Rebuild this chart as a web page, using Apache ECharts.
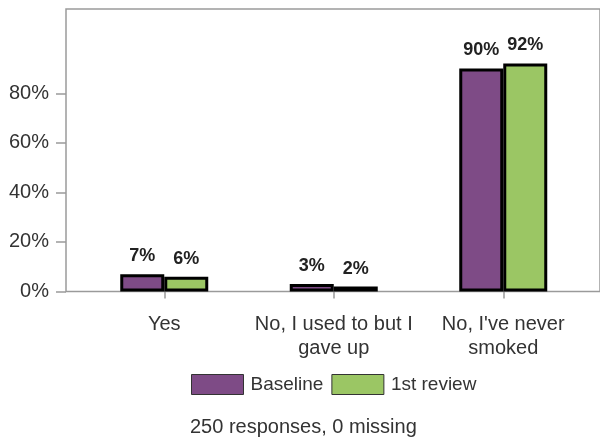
<!DOCTYPE html>
<html>
<head>
<meta charset="utf-8">
<script src="https://cdn.jsdelivr.net/npm/echarts@6/dist/echarts.min.js"></script>
<style>html,body{margin:0;padding:0;background:#fff}#c{width:600px;height:441px}</style>
</head>
<body>
<div id="c"></div>
<script>
var categories = ['Yes', 'No, I used to but I\ngave up', "No, I've never\nsmoked"];
var baseline = [7, 3, 90];
var review = [6, 2, 92];
var seriesNames = ['Baseline', '1st review'];
var yTicks = [0, 20, 40, 60, 80];
var footer = '250 responses, 0 missing';

var FONT = 'Liberation Sans';
var chart = echarts.init(document.getElementById('c'), null, {renderer: 'canvas'});
var yMax = 114;
chart.setOption({
  animation: false,
  color: ['#7e4b86', '#9bc664'],
  textStyle: {fontFamily: FONT},
  grid: [
    {left: 66, top: 9, right: -10, bottom: 149.5, show: true, borderColor: '#9a9a9a', borderWidth: 1.5, backgroundColor: 'transparent'},
    {left: 79.5, top: 9, width: 508.5, bottom: 149.5}
  ],
  xAxis: [
    {gridIndex: 0, type: 'value', min: 0, max: 1, show: false},
    {gridIndex: 1, type: 'category', data: categories,
     axisLine: {show: false},
     axisTick: {show: true, alignWithLabel: true, length: 7, lineStyle: {color: '#9a9a9a', width: 1.5}},
     axisLabel: {margin: 21, fontSize: 20, lineHeight: 24, color: '#333', fontFamily: FONT, interval: 0}}
  ],
  yAxis: [
    {gridIndex: 0, type: 'value', min: 0, max: yMax,
     axisLine: {show: false}, splitLine: {show: false},
     axisTick: {show: true, length: 10, customValues: yTicks, lineStyle: {color: '#9a9a9a', width: 1.5}},
     axisLabel: {customValues: yTicks, formatter: '{value}%', fontSize: 20, color: '#333', margin: 17, fontFamily: FONT}},
    {gridIndex: 1, type: 'value', min: 0, max: yMax, show: false}
  ],
  legend: {
    data: seriesNames, left: 186, top: 369, icon: 'rect', itemWidth: 52, itemHeight: 20, itemGap: 8,
    itemStyle: {borderWidth: 1, borderColor: '#333'},
    textStyle: {fontSize: 19, color: '#333', fontFamily: FONT, padding: [0, 0, 0, 2]}
  },
  title: {
    text: footer, left: 185, top: 412,
    textStyle: {fontSize: 20, fontWeight: 'normal', color: '#333', fontFamily: FONT}
  },
  series: [
    {name: seriesNames[0], type: 'bar', xAxisIndex: 1, yAxisIndex: 1, data: baseline,
     barWidth: 44, barGap: '0%',
     itemStyle: {borderColor: '#000', borderWidth: 3},
     label: {show: true, position: 'top', distance: 9, formatter: '{c}%', fontSize: 18, fontWeight: 'bold', color: '#222', fontFamily: FONT}},
    {name: seriesNames[1], type: 'bar', xAxisIndex: 1, yAxisIndex: 1, data: review,
     barWidth: 44, barGap: '0%',
     itemStyle: {borderColor: '#000', borderWidth: 3},
     label: {show: true, position: 'top', distance: 9, formatter: '{c}%', fontSize: 18, fontWeight: 'bold', color: '#222', fontFamily: FONT}}
  ]
});
</script>
</body>
</html>
